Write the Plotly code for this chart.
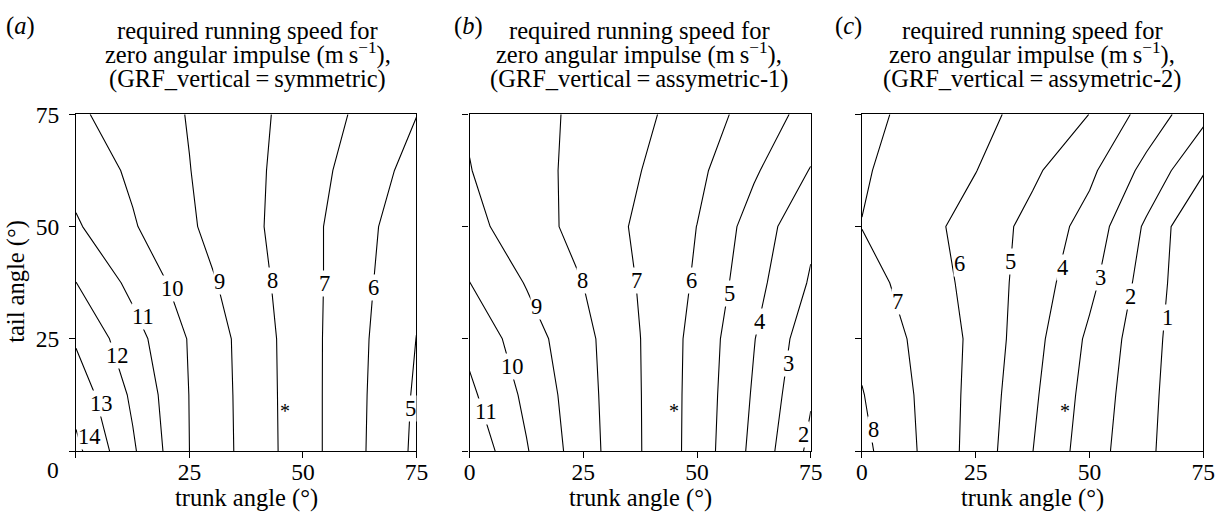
import plotly.graph_objects as go

# ---- data ----
trunk = [0, 12.5, 25, 37.5, 50, 62.5, 75]   # trunk angle (deg), columns
tail = [0, 12.5, 25, 37.5, 50, 62.5, 75]    # tail angle (deg), rows

speed_symmetric = [
    [14.25, 12.14, 10.00, 8.72, 7.44, 6.15, 4.80],
    [13.60, 11.83, 9.98, 8.70, 7.43, 6.17, 4.87],
    [12.88, 11.39, 9.93, 8.67, 7.42, 6.20, 4.99],
    [12.01, 10.74, 9.52, 8.46, 7.41, 6.28, 5.14],
    [11.12, 10.09, 9.12, 8.29, 7.37, 6.35, 5.30],
    [10.63, 9.83, 9.02, 8.29, 7.48, 6.57, 5.64],
    [10.15, 9.55, 8.95, 8.31, 7.61, 6.84, 6.02],
]
speed_asym1 = [
    [11.76, 10.07, 8.43, 7.04, 5.61, 3.73, 1.75],
    [11.20, 9.79, 8.36, 7.03, 5.63, 3.89, 2.10],
    [10.73, 9.46, 8.28, 7.01, 5.67, 4.04, 2.40],
    [10.01, 8.94, 7.99, 6.92, 5.87, 4.34, 2.90],
    [9.30, 8.47, 7.65, 6.83, 5.99, 4.58, 3.20],
    [9.03, 8.35, 7.72, 7.02, 6.22, 5.13, 3.95],
    [8.90, 8.34, 7.78, 7.22, 6.50, 5.62, 4.62],
]
speed_asym2 = [
    [8.27, 6.96, 5.61, 4.01, 2.47, 1.19, 0.05],
    [8.05, 6.90, 5.68, 4.17, 2.62, 1.27, 0.05],
    [7.76, 6.80, 5.77, 4.34, 2.81, 1.38, 0.05],
    [7.40, 6.58, 5.67, 4.53, 3.25, 1.59, 0.00],
    [6.98, 6.36, 5.60, 4.70, 3.62, 1.84, -0.10],
    [7.10, 6.56, 6.02, 5.17, 4.21, 2.70, 1.10],
    [7.24, 6.75, 6.27, 5.69, 4.99, 3.61, 2.26],
]

# contour label positions (value, trunk angle, tail angle)
labels_a_val = [14, 13, 12, 11, 10, 9, 8, 7, 6, 5]
labels_a_trunk = [3.0, 5.6, 9.2, 14.7, 21.3, 31.6, 43.3, 54.7, 65.5, 73.6]
labels_a_tail = [3.3, 10.6, 21.2, 30.0, 36.2, 37.7, 38.1, 37.3, 36.4, 9.5]
labels_b_val = [11, 10, 9, 8, 7, 6, 5, 4, 3, 2]
labels_b_trunk = [3.5, 9.4, 14.7, 24.8, 36.7, 48.8, 57.2, 63.8, 70.2, 73.5]
labels_b_tail = [8.8, 18.9, 32.2, 38.1, 38.1, 38.1, 35.1, 28.9, 19.4, 3.6]
labels_c_val = [8, 7, 6, 5, 4, 3, 2, 1]
labels_c_trunk = [2.6, 7.8, 21.4, 32.6, 44.0, 52.4, 58.9, 67.2]
labels_c_tail = [4.9, 33.3, 41.7, 42.3, 40.8, 38.6, 34.4, 29.8]

star_trunk = [46, 45, 44.5]
star_tail = [9.6, 9.5, 9.6]

panel_letters = ["a", "b", "c"]
title_line1 = "required running speed for"
title_line2 = "zero angular impulse (m\u2009s<sup>\u22121</sup>),"
title_line3 = ["(GRF_vertical\u2009=\u2009symmetric)",
               "(GRF_vertical\u2009=\u2009assymetric-1)",
               "(GRF_vertical\u2009=\u2009assymetric-2)"]
tick_vals = [0, 25, 50, 75]
x_title = "trunk angle (\u00b0)"
y_title = "tail angle (\u00b0)"

# ---- styling / layout ----
W, H = 1227, 515
S, OFF = 0.987, 8.0          # page rendering compensation


def fx(xo):
    return (xo / S - OFF) / W


def fy(yo):
    return 1 - (yo / S - OFF) / H


SERIF = "Liberation Serif"
FS_TITLE = 24.5
FS_TICK = 23.5
FS_LAB = 22.5
x_doms = [(fx(78), fx(419)), (fx(472.3), fx(814)), (fx(865.3), fx(1207.3))]
y_dom = (fy(451.5), fy(110.5))

fig = go.Figure()
grids = [speed_symmetric, speed_asym1, speed_asym2]
for i, z in enumerate(grids):
    sfx = "" if i == 0 else str(i + 1)
    fig.add_trace(go.Contour(
        x=trunk, y=tail, z=z,
        xaxis="x" + sfx, yaxis="y" + sfx,
        contours=dict(start=1, end=14, size=1, coloring="lines", showlabels=False),
        colorscale=[[0, "black"], [1, "black"]],
        line=dict(width=1.1, smoothing=0),
        showscale=False, hoverinfo="skip",
    ))

layout = dict(width=W, height=H, margin=dict(l=0, r=0, t=0, b=0),
              paper_bgcolor="white", plot_bgcolor="white", showlegend=False,
              font=dict(family=SERIF, size=FS_TICK, color="black"))
axis_common = dict(range=[0, 75], tickvals=tick_vals, ticks="outside",
                   ticklen=6, tickwidth=1.3, tickcolor="black",
                   showline=True, mirror=True, linecolor="black", linewidth=1.3,
                   showgrid=False, zeroline=False,
                   tickfont=dict(family=SERIF, size=FS_TICK, color="black"))
for i in range(3):
    sfx = "" if i == 0 else str(i + 1)
    xa = dict(axis_common, domain=list(x_doms[i]), anchor="y" + sfx, ticklabelstandoff=-6)
    ya = dict(axis_common, domain=list(y_dom), anchor="x" + sfx, ticklabelstandoff=5)
    if i == 0:
        xa["ticktext"] = ["", "25", "50", "75"]
        ya["ticktext"] = ["", "25", "50", "75"]
    else:
        ya["showticklabels"] = False
    layout["xaxis" + sfx] = xa
    layout["yaxis" + sfx] = ya

annotations = []
label_sets = [(labels_a_val, labels_a_trunk, labels_a_tail),
              (labels_b_val, labels_b_trunk, labels_b_tail),
              (labels_c_val, labels_c_trunk, labels_c_tail)]
for i, (vals, xs, ys) in enumerate(label_sets):
    sfx = "" if i == 0 else str(i + 1)
    for v, xv, yv in zip(vals, xs, ys):
        annotations.append(dict(text=str(v), x=xv, y=yv, xref="x" + sfx, yref="y" + sfx,
                                xanchor="center", yanchor="middle", showarrow=False,
                                bgcolor="white", borderpad=0,
                                font=dict(family=SERIF, size=FS_LAB, color="black")))
    # asterisk marker
    annotations.append(dict(text="*", x=star_trunk[i], y=star_tail[i],
                            xref="x" + sfx, yref="y" + sfx, xanchor="center",
                            yanchor="middle", showarrow=False, yshift=-3,
                            font=dict(family=SERIF, size=20, color="black")))

title_cx = [250, 642, 1036]
for i in range(3):
    for txt, ypx in [(title_line1, 26), (title_line2, 48.5), (title_line3[i], 75)]:
        annotations.append(dict(text=txt, x=fx(title_cx[i]), y=fy(ypx), xref="paper", yref="paper",
                                xanchor="center", yanchor="middle", showarrow=False,
                                font=dict(family=SERIF, size=FS_TITLE, color="black")))
    cx = (x_doms[i][0] + x_doms[i][1]) / 2
    annotations.append(dict(text=x_title, x=cx, y=fy(498.5), xref="paper", yref="paper",
                            xanchor="center", yanchor="middle", showarrow=False,
                            font=dict(family=SERIF, size=FS_TITLE, color="black")))
letter_x = [22.5, 471, 852]
for i in range(3):
    annotations.append(dict(text="(<i>%s</i>)" % panel_letters[i], x=fx(letter_x[i]),
                            y=fy(21.5), xref="paper", yref="paper",
                            xanchor="center", yanchor="middle", showarrow=False,
                            font=dict(family=SERIF, size=FS_TITLE, color="black")))
annotations.append(dict(text=y_title, x=fx(18), y=fy(280), xref="paper", yref="paper",
                        xanchor="center", yanchor="middle", textangle=-90, showarrow=False,
                        font=dict(family=SERIF, size=FS_TITLE, color="black")))
annotations.append(dict(text="0", x=fx(55), y=fy(470.5), xref="paper", yref="paper",
                        xanchor="center", yanchor="middle", showarrow=False,
                        font=dict(family=SERIF, size=FS_TICK, color="black")))
layout["annotations"] = annotations

fig.update_layout(**layout)
fig.write_html("out.html")
